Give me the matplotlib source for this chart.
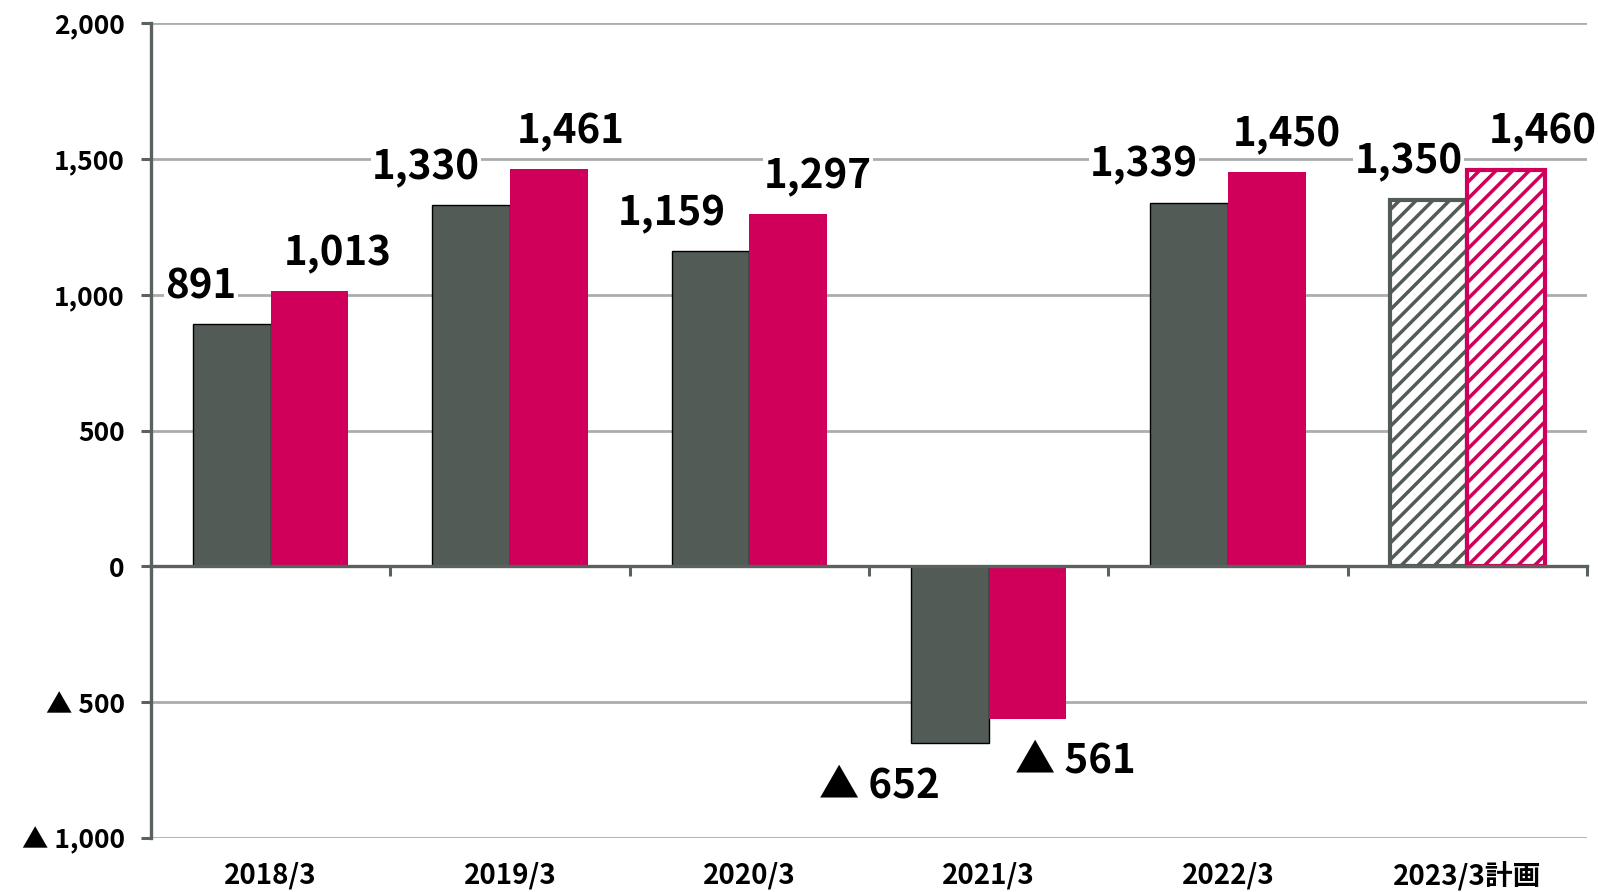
import matplotlib.pyplot as plt
import numpy as np

categories = ['2018/3', '2019/3', '2020/3', '2021/3', '2022/3', '2023/3計画']
series_a = [891, 1330, 1159, -652, 1339, 1350]
series_b = [1013, 1461, 1297, -561, 1450, 1460]
plan_flags = [False, False, False, False, False, True]

GRAY = '#525B55'
RED = '#D0005A'
AXIS = '#5A625E'
GRID = '#A9AEAB'

plt.rcParams['font.family'] = ['Noto Sans CJK JP', 'DejaVu Sans']
plt.rcParams['hatch.linewidth'] = 2.5

# label nudges in pixels (x), tuned by eye
dx_a = [-31, -45, -39, -70, -45, -20]
dx_b = [28, 22, 30, 48, 20, 37]


def fmt(v):
    v = int(round(v))
    if v < 0:
        return '▲ {:,}'.format(-v)
    return '{:,}'.format(v)


fig = plt.figure(figsize=(15.98, 8.92), dpi=100)
ax = fig.add_axes([0.0945, 0.0605, 0.8986, 0.9137])

x = np.arange(len(categories))
w = 0.325

for i in range(len(categories)):
    if plan_flags[i]:
        ax.bar(x[i] - w / 2, series_a[i], w, facecolor='white', edgecolor=GRAY,
               hatch='//', linewidth=3.0, zorder=3)
        ax.bar(x[i] + w / 2, series_b[i], w, facecolor='white', edgecolor=RED,
               hatch='//', linewidth=3.0, zorder=3)
    else:
        ax.bar(x[i] - w / 2, series_a[i], w, color=GRAY, edgecolor='black',
               linewidth=1.0, zorder=3)
        ax.bar(x[i] + w / 2, series_b[i], w, color=RED, linewidth=0, zorder=3)

box = dict(facecolor='white', edgecolor='none', pad=1)
for vals, off, sign in [(series_a, dx_a, -1), (series_b, dx_b, 1)]:
    for i, v in enumerate(vals):
        xc = x[i] + sign * w / 2
        if v >= 0:
            ax.annotate(fmt(v), (xc, v), xytext=(off[i], 17), textcoords='offset pixels',
                        ha='center', va='bottom', fontsize=29, fontweight='bold',
                        bbox=box, zorder=2.5)
        else:
            ax.annotate(fmt(v), (xc, v), xytext=(off[i], -22), textcoords='offset pixels',
                        ha='center', va='top', fontsize=29, fontweight='bold',
                        zorder=2.5)

ax.set_xlim(-0.5, 5.5)
ax.set_ylim(-1000, 2000)
ax.set_yticks([-1000, -500, 0, 500, 1000, 1500, 2000])
ax.set_yticklabels([fmt(t) for t in ax.get_yticks()], fontsize=19, fontweight='bold')
ax.yaxis.grid(True, color=GRID, linewidth=2.0, zorder=0)
ax.set_axisbelow(True)
ax.tick_params(axis='y', length=7, width=2.2, color=AXIS, pad=12)

# x axis on zero line with boundary ticks
ax.spines['bottom'].set_position(('data', 0))
ax.spines['bottom'].set_color(AXIS)
ax.spines['bottom'].set_linewidth(2.4)
ax.spines['bottom'].set_zorder(4)
ax.set_xticks(np.arange(-0.5, 6, 1))
ax.set_xticklabels([])
ax.tick_params(axis='x', length=7, width=2.2, color=AXIS)
ax.spines['left'].set_color(AXIS)
ax.spines['left'].set_linewidth(2.4)
ax.spines['top'].set_visible(False)
ax.spines['right'].set_visible(False)

sec = ax.secondary_xaxis('bottom')
sec.set_xticks(x)
sec.set_xticklabels(categories, fontsize=20, fontweight='bold')
sec.tick_params(length=0, pad=17)
sec.spines['bottom'].set_visible(False)

fig.savefig('out.png', dpi=100)
